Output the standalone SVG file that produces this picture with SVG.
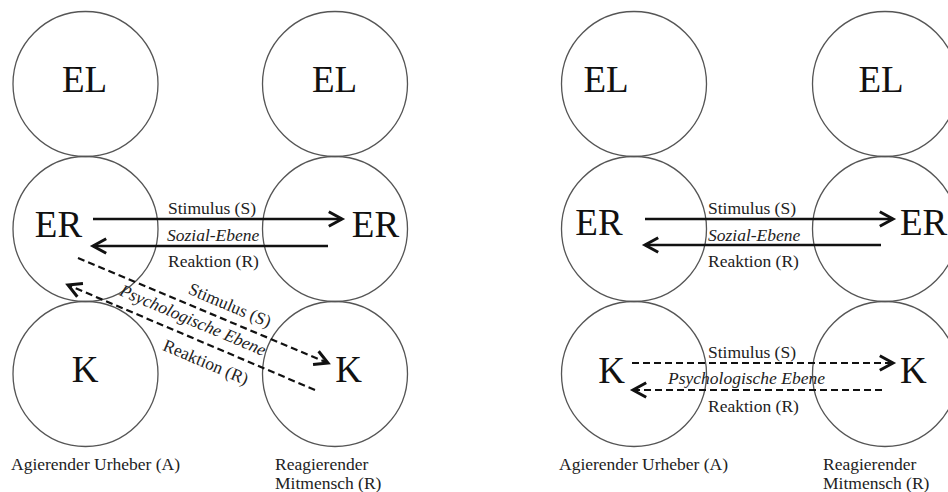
<svg xmlns="http://www.w3.org/2000/svg" width="948" height="492" viewBox="0 0 948 492">
<style>
.c{fill:none;stroke:#555;stroke-width:1.3}
.big{font-family:"Liberation Serif","Times New Roman",serif;font-size:37px;fill:#111;text-anchor:middle}
.lbl{font-family:"Liberation Serif","Times New Roman",serif;font-size:17.5px;fill:#222}
.it{font-style:italic}
.s{fill:none;stroke:#111;stroke-width:2.5}
.d{fill:none;stroke:#111;stroke-width:2.2;stroke-dasharray:7 4}
</style>
<defs>
<marker id="ah" markerUnits="userSpaceOnUse" markerWidth="24" markerHeight="24" viewBox="-14 -10 20 20" refX="0" refY="0" orient="auto" overflow="visible">
<path d="M-11,-6 L0,0 L-11,6" fill="none" stroke="#111" stroke-width="2.5"/>
</marker>
</defs>
<rect width="948" height="492" fill="#fff"/>

<g id="left-panel">
<g id="A-EL"><circle class="c" cx="85.5" cy="84" r="72.5"/><text class="big" x="84.5" y="92">EL</text></g>
<g id="R-EL"><circle class="c" cx="335" cy="84" r="72.5"/><text class="big" x="334.5" y="92">EL</text></g>
<g id="A-ER"><circle class="c" cx="85.5" cy="229" r="72.5"/><text class="big" x="58.5" y="237">ER</text></g>
<g id="R-ER"><circle class="c" cx="335" cy="229" r="72.5"/><text class="big" x="375.5" y="237">ER</text></g>
<g id="A-K"><circle class="c" cx="85.5" cy="374" r="72.5"/><text class="big" x="85" y="382">K</text></g>
<g id="R-K"><circle class="c" cx="335" cy="374" r="72.5"/><text class="big" x="348.5" y="382">K</text></g>
<g id="A-label"><text class="lbl" x="11" y="470">Agierender Urheber (A)</text></g>
<g id="R-label"><text class="lbl" x="275" y="470">Reagierender</text><text class="lbl" x="275" y="489">Mitmensch (R)</text></g>
</g>

<g id="right-panel">
<g id="A2-EL"><circle class="c" cx="634" cy="84" r="72.5"/><text class="big" x="606" y="92">EL</text></g>
<g id="R2-EL"><circle class="c" cx="885" cy="84" r="72.5"/><text class="big" x="881" y="92">EL</text></g>
<g id="A2-ER"><circle class="c" cx="634" cy="229" r="72.5"/><text class="big" x="599" y="235">ER</text></g>
<g id="R2-ER"><circle class="c" cx="885" cy="229" r="72.5"/><text class="big" x="900" y="235" style="text-anchor:start">ER</text></g>
<g id="A2-K"><circle class="c" cx="634" cy="374" r="72.5"/><text class="big" x="611.5" y="383">K</text></g>
<g id="R2-K"><circle class="c" cx="885" cy="374" r="72.5"/><text class="big" x="900" y="383" style="text-anchor:start">K</text></g>
<g id="A2-label"><text class="lbl" x="559" y="470">Agierender Urheber (A)</text></g>
<g id="R2-label"><text class="lbl" x="823" y="470">Reagierender</text><text class="lbl" x="823" y="489">Mitmensch (R)</text></g>
</g>

<g id="connectors">
<line class="s" x1="93" y1="219" x2="342" y2="219" marker-end="url(#ah)"/>
<line class="s" x1="328" y1="246" x2="93" y2="246" marker-end="url(#ah)"/>
<line class="d" x1="78" y1="258" x2="328" y2="363" marker-end="url(#ah)"/>
<line class="d" x1="315" y1="390" x2="68" y2="285" marker-end="url(#ah)"/>

<line class="s" x1="645" y1="219" x2="893" y2="219" marker-end="url(#ah)"/>
<line class="s" x1="881" y1="245" x2="645" y2="245" marker-end="url(#ah)"/>
<line class="d" x1="632" y1="363" x2="893" y2="363" marker-end="url(#ah)"/>
<line class="d" x1="882" y1="390" x2="633" y2="390" marker-end="url(#ah)"/>
</g>

<g id="connector-labels">
<text class="lbl" x="168" y="214">Stimulus (S)</text>
<text class="lbl it" x="167" y="241">Sozial-Ebene</text>
<text class="lbl" x="168" y="267">Reaktion (R)</text>
<text class="lbl" text-anchor="middle" transform="translate(230,305) rotate(23)" y="6">Stimulus (S)</text>
<text class="lbl it" text-anchor="middle" transform="translate(193,320) rotate(23)" y="6">Psychologische Ebene</text>
<text class="lbl" text-anchor="middle" transform="translate(206,362) rotate(23)" y="6">Reaktion (R)</text>

<text class="lbl" x="708" y="214">Stimulus (S)</text>
<text class="lbl it" x="708" y="241">Sozial-Ebene</text>
<text class="lbl" x="708" y="267">Reaktion (R)</text>
<text class="lbl" x="708" y="358">Stimulus (S)</text>
<text class="lbl it" x="668" y="384">Psychologische Ebene</text>
<text class="lbl" x="708" y="412">Reaktion (R)</text>
</g>
</svg>
